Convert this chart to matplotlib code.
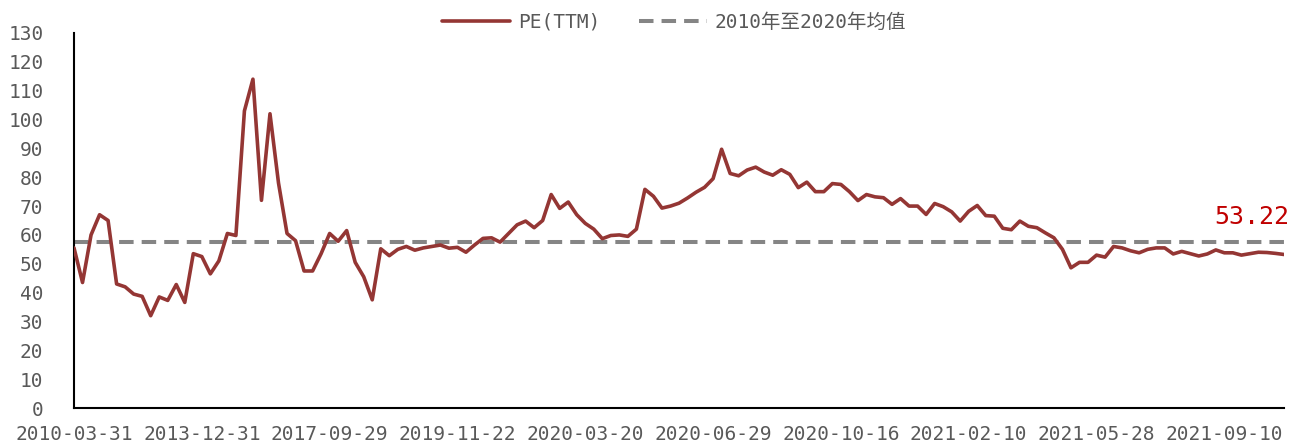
import numpy as np
import matplotlib.pyplot as plt

# PE(TTM) 序列（按图读数，143 个观测点）
pe_ttm = [
    55.5, 43.5, 60.0, 67.0, 65.0, 43.0, 42.0, 39.5, 38.7, 32.0,
    38.5, 37.3, 42.8, 36.6, 53.5, 52.5, 46.5, 51.0, 60.5, 59.8,
    103.0, 114.0, 72.0, 102.0, 78.0, 60.5, 58.0, 47.5, 47.5, 53.5,
    60.5, 57.8, 61.5, 50.5, 45.5, 37.5, 55.2, 52.8, 55.0, 56.0,
    54.7, 55.5, 56.0, 56.5, 55.4, 55.7, 54.0, 56.5, 58.8, 59.0,
    57.5, 60.5, 63.5, 64.8, 62.5, 65.0, 74.0, 69.2, 71.4, 67.0,
    64.0, 62.0, 58.7, 59.8, 60.0, 59.5, 62.0, 75.8, 73.4, 69.3,
    70.0, 71.0, 72.8, 74.8, 76.5, 79.5, 89.7, 81.3, 80.5, 82.5,
    83.5, 81.8, 80.7, 82.6, 81.0, 76.4, 78.3, 75.0, 75.0, 77.8,
    77.5, 75.0, 71.9, 74.0, 73.2, 72.9, 70.6, 72.6, 70.0, 70.0,
    67.1, 70.9, 69.8, 68.0, 64.8, 68.2, 70.2, 66.7, 66.5, 62.3,
    61.8, 64.8, 63.0, 62.5, 60.7, 59.0, 55.0, 48.6, 50.5, 50.5,
    53.0, 52.3, 56.0, 55.5, 54.5, 53.8, 55.0, 55.5, 55.5, 53.4,
    54.3, 53.5, 52.7, 53.4, 54.8, 53.8, 53.8, 53.0, 53.5, 54.0,
    53.9, 53.6, 53.22,
]
mean_2010_2020 = 57.4

tick_labels = ['2010-03-31', '2013-12-31', '2017-09-29', '2019-11-22', '2020-03-20',
               '2020-06-29', '2020-10-16', '2021-02-10', '2021-05-28', '2021-09-10']
label_step = 15

line_color = '#943634'
mean_color = '#858585'
text_color = '#595959'

plt.rcParams['font.family'] = ['DejaVu Sans Mono', 'Noto Sans CJK SC']

fig = plt.figure(figsize=(12.94, 4.45), dpi=100)
ax = fig.add_axes([74 / 1294, 37 / 445, 1210 / 1294, 375 / 445])

x = np.arange(len(pe_ttm))
ax.plot(x, pe_ttm, color=line_color, lw=2.6, solid_joinstyle='round',
        solid_capstyle='round', label='PE(TTM)', zorder=3)
ax.plot([x[0], x[-1]], [mean_2010_2020, mean_2010_2020], color=mean_color, lw=2.9,
        dashes=(3.6, 2.0), dash_capstyle='butt', label='2010年至2020年均值', zorder=2)

ax.set_xlim(0, len(pe_ttm) - 1)
ax.set_ylim(0, 130)
ax.set_yticks(range(0, 131, 10))
ax.set_xticks(range(0, len(tick_labels) * label_step, label_step))
ax.set_xticklabels(tick_labels)

for side in ['top', 'right']:
    ax.spines[side].set_visible(False)
for side in ['left', 'bottom']:
    ax.spines[side].set_color('black')
    ax.spines[side].set_linewidth(1.5)

ax.tick_params(axis='y', length=0, pad=22, labelsize=14, labelcolor=text_color)
ax.tick_params(axis='x', length=0, pad=12, labelsize=14, labelcolor=text_color)

# 最新值标注
ax.annotate(f'{pe_ttm[-1]:.2f}', xy=(x[-1], pe_ttm[-1]), xytext=(-70, 37),
            textcoords='offset pixels', ha='left', va='center',
            fontsize=18, color='#C00000', annotation_clip=False)

fig.legend(loc='center', bbox_to_anchor=(0.521, 0.95), ncol=2, frameon=False,
           fontsize=14, labelcolor=text_color, handlelength=3.5,
           handletextpad=0.4, columnspacing=2.0)

fig.savefig('out.png', dpi=100)
